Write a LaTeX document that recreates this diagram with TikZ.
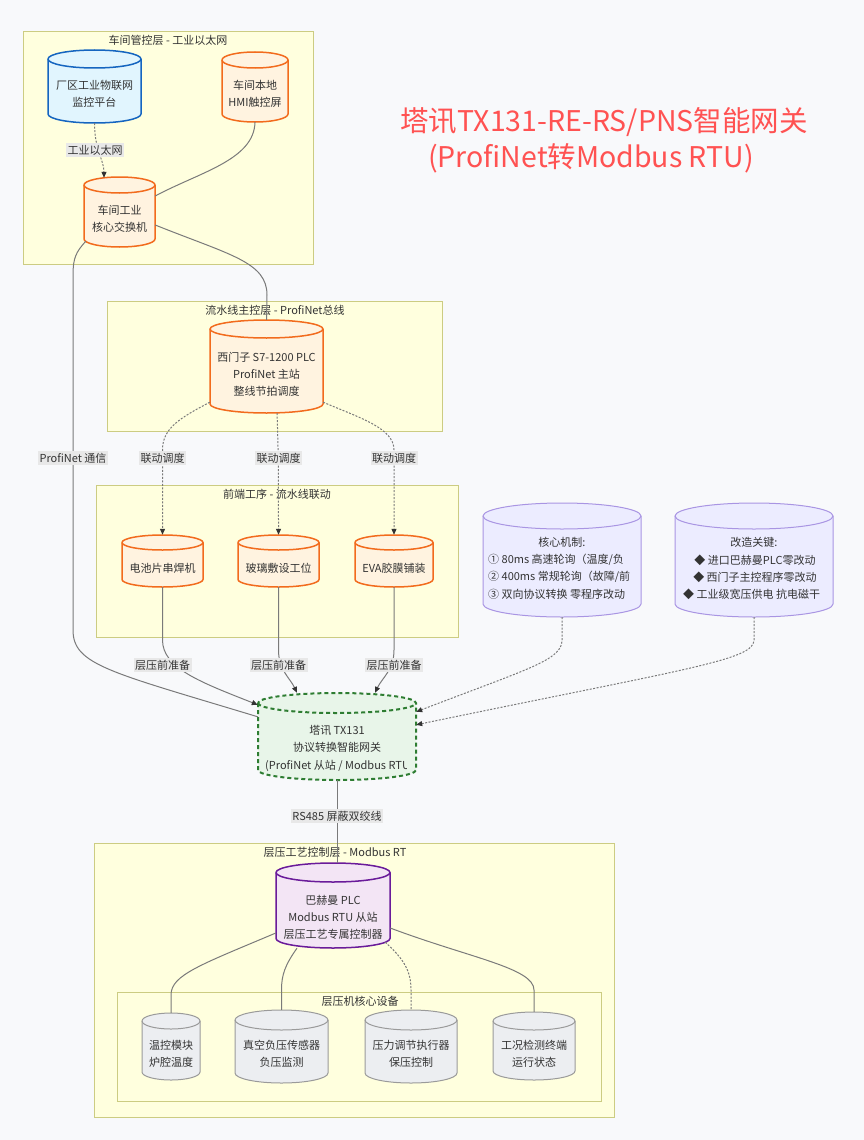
\documentclass[tikz,border=0pt]{standalone}
\usepackage{fontspec}
\setmainfont{Noto Sans CJK SC}
\usetikzlibrary{arrows.meta}
\definecolor{bgc}{HTML}{F8F9FB}
\definecolor{clfill}{HTML}{FFFFDE}
\definecolor{cldraw}{HTML}{CCCC82}
\definecolor{textc}{HTML}{333333}
\definecolor{edgec}{HTML}{7A7A7A}
\definecolor{lblbg}{HTML}{E8E8E8}
\definecolor{bluef}{HTML}{E1F5FE}
\definecolor{blued}{HTML}{1565C0}
\definecolor{orf}{HTML}{FFF3E0}
\definecolor{ord}{HTML}{F26B1D}
\definecolor{lavf}{HTML}{ECECFF}
\definecolor{lavd}{HTML}{A995E3}
\definecolor{grf}{HTML}{E8F5E9}
\definecolor{grd}{HTML}{2E7D32}
\definecolor{puf}{HTML}{F3E5F5}
\definecolor{pud}{HTML}{6A1B9A}
\definecolor{gyf}{HTML}{ECEEF1}
\definecolor{gyd}{HTML}{9A9A9A}
\definecolor{titlec}{HTML}{FF5252}

% name, x1, y1, x2, y2, ry, style
\newcommand{\mycyl}[7]{%
 \pgfmathsetmacro{\cxa}{(#2+#4)/2}%
 \pgfmathsetmacro{\cya}{(#3+#5)/2}%
 \pgfmathsetmacro{\rxa}{(#4-#2)/2}%
 \pgfmathsetmacro{\wa}{#4-#2}%
 \pgfmathsetmacro{\ha}{#5-#3}%
 \pgfmathsetmacro{\ta}{#3+#6}%
 \pgfmathsetmacro{\ba}{#5-#6}%
 \path[#7] (#2,\ta) -- (#2,\ba) arc[start angle=180,end angle=360,x radius=\rxa pt,y radius=#6pt] -- (#4,\ta) arc[start angle=0,end angle=180,x radius=\rxa pt,y radius=#6pt] -- cycle;
 \path[#7,fill=none] (#2,\ta) arc[start angle=180,end angle=360,x radius=\rxa pt,y radius=#6pt];
 \node[boxn,minimum width=\wa pt,minimum height=\ha pt] (#1) at (\cxa,\cya) {};
}

\begin{document}
\begin{tikzpicture}[x=1pt,y=-1pt,
 cluster/.style={draw=cldraw,fill=clfill,line width=1.3pt,inner sep=0,anchor=north west},
 cltitle/.style={text=textc,font=\fontsize{11}{13}\selectfont,inner sep=0},
 ntext/.style={text=textc,font=\fontsize{11}{17}\selectfont,align=center,inner sep=0},
 ltext/.style={text=textc,font=\fontsize{11}{17}\selectfont,inner sep=0},
 elabel/.style={fill=lblbg,text=textc,font=\fontsize{11}{13}\selectfont,inner xsep=1.5pt,inner ysep=2pt},
 boxn/.style={draw=none,fill=none,inner sep=0,rectangle},
 conn/.style={draw=edgec,line width=1pt},
 dconn/.style={conn,dash pattern=on 2pt off 1.5pt},
 arr/.style={-{Triangle[length=6pt,width=5pt,color=textc]}},
 bluecyl/.style={fill=bluef,draw=blued,line width=1.5pt},
 orcyl/.style={fill=orf,draw=ord,line width=1.5pt},
 lavcyl/.style={fill=lavf,draw=lavd,line width=1pt},
 grcyl/.style={fill=grf,draw=grd,line width=2pt,dash pattern=on 4pt off 3pt},
 pucyl/.style={fill=puf,draw=pud,line width=1.5pt},
 gycyl/.style={fill=gyf,draw=gyd,line width=1pt},
 titletext/.style={text=titlec,font=\fontsize{28.5}{32}\selectfont,inner sep=0}
]
\useasboundingbox (0,0) rectangle (864,1140);
\fill[bgc] (0,0) rectangle (864,1140);

% clusters
\node[cluster,minimum width=290pt,minimum height=233pt] (c1) at (23,31) {};
\node[cluster,minimum width=335pt,minimum height=130pt] (c2) at (107,301) {};
\node[cluster,minimum width=362pt,minimum height=152pt] (c3) at (96,485) {};
\node[cluster,minimum width=520pt,minimum height=274pt] (c4) at (94,843) {};
\node[cluster,minimum width=484pt,minimum height=109pt] (c5) at (117,992) {};

\node[cltitle] (c1-t) at (168,40) {车间管控层 - 工业以太网};
\node[cltitle] (c2-t) at (275,310) {流水线主控层 - ProfiNet总线};
\node[cltitle] (c3-t) at (277,494) {前端工序 - 流水线联动};
\node[cltitle] (c4-t) at (335,852) {层压工艺控制层 - Modbus RT};
\node[cltitle] (c5-t) at (360,1001) {层压机核心设备};

% title
\node[titletext] (title1) at (604,122) {塔讯TX131-RE-RS/PNS智能网关};
\node[titletext] (title2) at (591,158) {(ProfiNet转Modbus RTU)};

% nodes
\mycyl{iot}{48}{50}{141}{123}{9}{bluecyl}
\mycyl{hmi}{222}{52}{288}{122}{8}{orcyl}
\mycyl{sw}{84}{177}{155}{247}{8}{orcyl}
\mycyl{plc}{210}{320}{323}{413}{9}{orcyl}
\mycyl{s1}{122}{535}{203}{587}{7.5}{orcyl}
\mycyl{s2}{238}{535}{319}{587}{7.5}{orcyl}
\mycyl{s3}{355}{535}{433}{587}{7.5}{orcyl}
\mycyl{cm}{483}{503}{641}{617}{13}{lavcyl}
\mycyl{gj}{675}{503}{833}{617}{13}{lavcyl}
\mycyl{gw}{258}{693}{416}{780}{10}{grcyl}
\mycyl{bm}{276}{863}{390}{948}{9.5}{pucyl}
\mycyl{d1}{142}{1013}{200}{1080}{8}{gycyl}
\mycyl{d2}{235}{1010}{328}{1083}{10}{gycyl}
\mycyl{d3}{365}{1010}{457}{1083}{10}{gycyl}
\mycyl{d4}{493}{1012}{575}{1080}{9}{gycyl}

% node texts
\node[ntext] (iot-t) at (94.5,93.5) {厂区工业物联网\\监控平台};
\node[ntext] (hmi-t) at (255,94) {车间本地\\HMI触控屏};
\node[ntext] (sw-t) at (119.5,219) {车间工业\\核心交换机};
\node[ntext] (plc-t) at (266.5,374) {西门子 S7-1200 PLC\\ProfiNet 主站\\整线节拍调度};
\node[ntext] (s1-t) at (162.5,568) {电池片串焊机};
\node[ntext] (s2-t) at (278.5,568) {玻璃敷设工位};
\node[ntext] (s3-t) at (394,568) {EVA胶膜铺装};
\begin{scope}
\clip (486,530) rectangle (640,610);
\node[ntext] (cm-h) at (562,542) {核心机制:};
\node[ltext,anchor=west] (cm-1) at (488,560) {① 80ms 高速轮询（温度/负};
\node[ltext,anchor=west] (cm-2) at (488,577) {② 400ms 常规轮询（故障/前};
\node[ltext,anchor=west] (cm-3) at (488,594) {③ 双向协议转换 零程序改动};
\end{scope}
\begin{scope}
\clip (678,530) rectangle (831,610);
\node[ntext] (gj-h) at (754,542) {改造关键:};
\node[ntext] (gj-1) at (755,560) {◆ 进口巴赫曼PLC零改动};
\node[ntext] (gj-2) at (755,577) {◆ 西门子主控程序零改动};
\node[ltext,anchor=west] (gj-3) at (683,594) {◆ 工业级宽压供电 抗电磁干};
\end{scope}
\begin{scope}
\clip (260,715) rectangle (406,778);
\node[ntext] (gw-t) at (337,739) {塔讯 TX131\\协议转换智能网关};
\node[ltext,anchor=west] (gw-t3) at (265,766) {(ProfiNet 从站 / Modbus RTU};
\end{scope}
\node[ntext] (bm-t) at (333,917) {巴赫曼 PLC\\Modbus RTU 从站\\层压工艺专属控制器};
\node[ntext] (d1-t) at (171,1054) {温控模块\\炉腔温度};
\node[ntext] (d2-t) at (281.5,1054) {真空负压传感器\\负压监测};
\node[ntext] (d3-t) at (411,1054) {压力调节执行器\\保压控制};
\node[ntext] (d4-t) at (534,1054) {工况检测终端\\运行状态};

% connectors
\draw[dconn,arr] (iot.south) .. controls (94.5,150) and (104,160) .. ([xshift=-15.5pt,yshift=-1pt]sw.north);
\draw[conn] (hmi.south) .. controls (254,160) and (200,172) .. ([yshift=16pt]sw.east);
\draw[conn] ([yshift=-13pt]sw.east) .. controls (230,255) and (267,262) .. (267,295) -- (plc.north);
\draw[conn] ([xshift=2pt,yshift=6pt]sw.south west) .. controls (76,252) and (73,258) .. (73,275) -- (73,630) .. controls (73,665) and (110,672) .. ([yshift=-24pt]gw.north west);

\draw[dconn,arr] ([yshift=11pt]plc.south west) .. controls (180,418) and (162.5,428) .. (162.5,450) -- (s1.north);
\draw[dconn,arr] ([xshift=10.5pt]plc.south) .. controls (278,440) and (278.5,460) .. (s2.north);
\draw[dconn,arr] ([yshift=11pt]plc.south east) .. controls (360,418) and (394,428) .. (394,450) -- (s3.north);

\draw[conn,arr] (s1.south) -- (162.5,640) .. controls (162.5,668) and (200,682) .. ([yshift=-12pt]gw.north west);
\draw[conn,arr] (s2.south) -- (278.5,650) .. controls (278.5,670) and (290,678) .. ([xshift=-40pt]gw.north);
\draw[conn,arr] (s3.south) -- (394,650) .. controls (394,670) and (382,678) .. ([xshift=38pt]gw.north);

\draw[dconn,arr] (cm.south) -- (562,640) .. controls (562,660) and (530,668) .. ([yshift=-19pt]gw.north east);
\draw[dconn,arr] (gj.south) -- (754,640) .. controls (754,660) and (690,668) .. ([yshift=-32pt]gw.north east);

\draw[conn] (gw.south) -- (gw.south |- bm.north);

\draw[conn] ([yshift=-27.5pt]bm.west) .. controls (200,965) and (171,975) .. (171,995) -- (d1.north);
\draw[conn] ([xshift=-36pt]bm.south) .. controls (285,965) and (281.5,975) .. (281.5,990) -- (d2.north);
\draw[dconn] ([xshift=-5pt,yshift=6pt]bm.south east) .. controls (405,960) and (411,972) .. (411,990) -- (d3.north);
\draw[conn] ([yshift=-22.5pt]bm.east) .. controls (470,958) and (534,968) .. (534,990) -- (d4.north);

% edge labels
\node[elabel] (l-eth) at (95,150) {工业以太网};
\node[elabel] (l-pn) at (73,458) {ProfiNet 通信};
\node[elabel] (l-ld1) at (162.5,458) {联动调度};
\node[elabel] (l-ld2) at (278.5,458) {联动调度};
\node[elabel] (l-ld3) at (394,458) {联动调度};
\node[elabel] (l-cy1) at (162.5,665) {层压前准备};
\node[elabel] (l-cy2) at (278.5,665) {层压前准备};
\node[elabel] (l-cy3) at (394,665) {层压前准备};
\node[elabel] (l-rs) at (337,816) {RS485 屏蔽双绞线};
\end{tikzpicture}
\end{document}
